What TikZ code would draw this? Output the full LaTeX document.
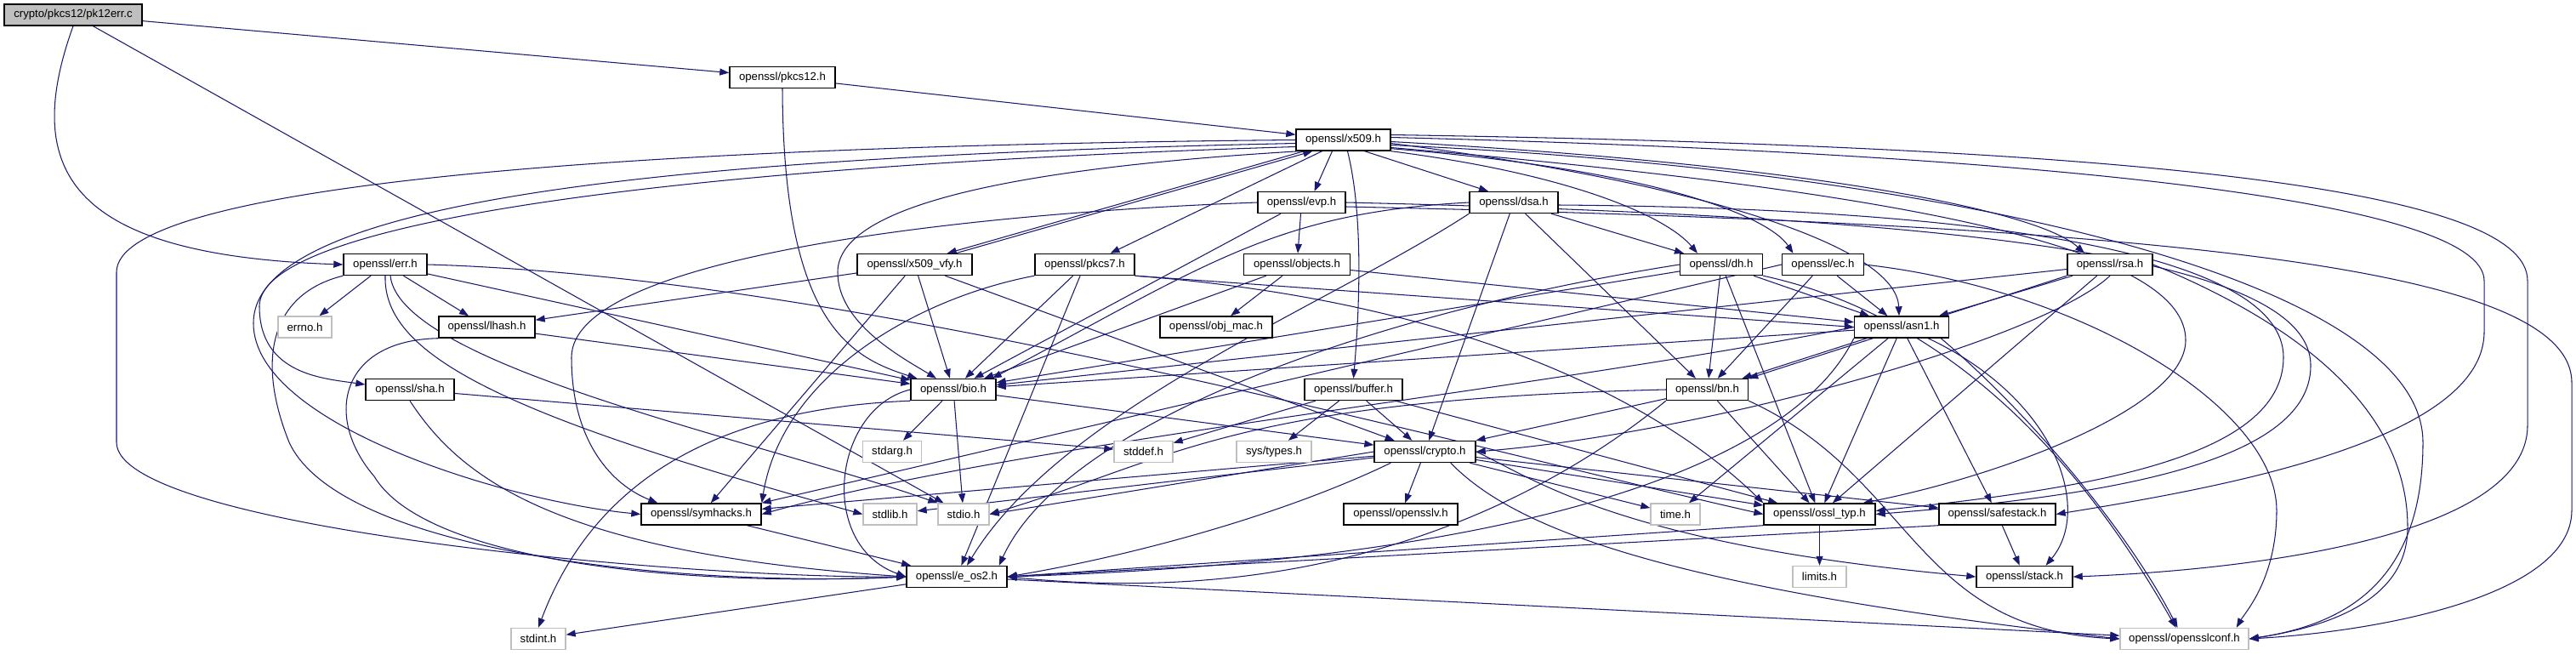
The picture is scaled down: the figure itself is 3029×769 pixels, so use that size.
\documentclass[tikz,border=0pt]{standalone}
\usepackage{fontspec}
\setmainfont{Liberation Sans}
\usetikzlibrary{arrows.meta,calc}
\definecolor{eblue}{HTML}{191970}
\definecolor{gbord}{HTML}{BFBFBF}
\pgfdeclarelayer{bg}
\pgfdeclarelayer{edges}
\pgfsetlayers{bg,edges,main}
\begin{document}
\begin{tikzpicture}[x=1pt,y=-1pt,
  box/.style={draw=black, line width=1.4pt, fill=white, minimum height=25pt, inner sep=0pt, font=\fontsize{13.2}{15}\selectfont},
  gbox/.style={box, draw=gbord},
  rootbox/.style={box, fill=gbord},
  e/.style={draw=eblue, line width=1.05pt, -{Triangle[length=11pt,width=8pt]}}]
\begin{pgfonlayer}{bg}
\fill[white] (0,0) rectangle (3029,769);
\end{pgfonlayer}
\useasboundingbox (0,0) rectangle (3029,769);
% nodes
\node[rootbox, minimum width=162pt] (pk12err) at (86,17.5) {crypto/pkcs12/pk12err.c};
\node[box, minimum width=124pt] (pkcs12) at (920,91) {openssl/pkcs12.h};
\node[box, minimum width=111pt] (x509) at (1579.5,164.5) {openssl/x509.h};
\node[box, minimum width=103pt] (evp) at (1530.5,238) {openssl/evp.h};
\node[box, minimum width=104pt] (dsa) at (1780,238) {openssl/dsa.h};
\node[box, minimum width=98pt] (err) at (453,311) {openssl/err.h};
\node[box, minimum width=135pt] (vfy) at (1075.5,311) {openssl/x509\_vfy.h};
\node[box, minimum width=117pt] (pkcs7) at (1275.5,311) {openssl/pkcs7.h};
\node[box, minimum width=125pt] (objects) at (1525,311) {openssl/objects.h};
\node[box, minimum width=97pt] (dh) at (2024,311) {openssl/dh.h};
\node[box, minimum width=96pt] (ec) at (2143.5,311) {openssl/ec.h};
\node[box, minimum width=100pt] (rsa) at (2481,311) {openssl/rsa.h};
\node[gbox, minimum width=63pt] (errno) at (358.5,384.5) {errno.h};
\node[box, minimum width=113pt] (lhash) at (572.5,384.5) {openssl/lhash.h};
\node[box, minimum width=132pt] (objmac) at (1430,384.5) {openssl/obj\_mac.h};
\node[box, minimum width=111pt] (asn1) at (2236,384.5) {openssl/asn1.h};
\node[box, minimum width=104pt] (sha) at (482,458) {openssl/sha.h};
\node[box, minimum width=100pt] (bio) at (1121,458) {openssl/bio.h};
\node[box, minimum width=115pt] (buffer) at (1591.5,458) {openssl/buffer.h};
\node[box, minimum width=96pt] (bn) at (2007.5,458) {openssl/bn.h};
\node[gbox, minimum width=69pt] (stdarg) at (1049,531) {stdarg.h};
\node[gbox, minimum width=69pt] (stddef) at (1344.5,531) {stddef.h};
\node[gbox, minimum width=88pt] (systypes) at (1498,531) {sys/types.h};
\node[box, minimum width=119pt] (crypto) at (1675.5,531) {openssl/crypto.h};
\node[box, minimum width=141pt] (symhacks) at (824.5,604.5) {openssl/symhacks.h};
\node[gbox, minimum width=63pt] (stdlib) at (1046.5,604.5) {stdlib.h};
\node[gbox, minimum width=60pt] (stdio) at (1133,604.5) {stdio.h};
\node[box, minimum width=134pt] (opensslv) at (1647,604.5) {openssl/opensslv.h};
\node[gbox, minimum width=58pt] (time) at (1970,604.5) {time.h};
\node[box, minimum width=131pt] (ossltyp) at (2139.5,604.5) {openssl/ossl\_typ.h};
\node[box, minimum width=137pt] (safestack) at (2348.5,604.5) {openssl/safestack.h};
\node[box, minimum width=118pt] (eos2) at (1125,678) {openssl/e\_os2.h};
\node[gbox, minimum width=63pt] (limits) at (2139.5,678) {limits.h};
\node[box, minimum width=113pt] (stack) at (2380.5,678) {openssl/stack.h};
\node[gbox, minimum width=64pt] (stdint) at (633,751) {stdint.h};
\node[gbox, minimum width=151pt] (conf) at (2568.5,751) {openssl/opensslconf.h};

\begin{pgfonlayer}{edges}
% pk12err.c
\draw[e] (pk12err) -- (pkcs12);
\draw[e] (pk12err) -- (stdio);
\draw[e] (pk12err.south) .. controls (25,200) and (80,300) .. (err.west);
% pkcs12.h
\draw[e] (pkcs12) -- (x509);
\draw[e] (pkcs12.south) .. controls (921,380) and (1000,420) .. ($(bio.north west)+(8,0)$);
% x509.h
\draw[e] (x509.west) .. controls (700,172) and (137,220) .. (137,320) -- (137,520) .. controls (137,620) and (800,680) .. (eos2.west);
\draw[e] ($(x509.west)+(0,4)$) .. controls (750,185) and (298,240) .. (298,380) .. controls (298,500) and (600,590) .. (symhacks.west);
\draw[e] ($(x509.west)+(0,8)$) .. controls (800,195) and (305,260) .. (305,360) .. controls (305,440) and (380,445) .. ($(sha.west)+(0,-6)$);
\draw[e] ($(x509.south west)+(5,0)$) .. controls (1150,200) and (985,250) .. (985,320) .. controls (985,380) and (1060,420) .. ($(bio.north)+(-20,0)$);
\draw[e] ($(x509.south west)+(10,0)$) -- ($(vfy.north east)+(-30,0)$);
\draw[e] ($(vfy.north east)+(-20,0)$) -- ($(x509.south west)+(20,0)$);
\draw[e] ($(x509.south)+(-25,0)$) -- ($(pkcs7.north)+(30,0)$);
\draw[e] ($(x509.south)+(-13,0)$) -- ($(evp.north)+(15,0)$);
\draw[e] ($(x509.south)+(25,0)$) -- ($(dsa.north)+(-30,0)$);
\draw[e] ($(x509.south)+(5,0)$) .. controls (1605,260) and (1597,380) .. (buffer.north);
\draw[e] (x509.south east) .. controls (1850,205) and (1960,255) .. ($(dh.north)+(-28,0)$);
\draw[e] ($(x509.south east)+(0,-3)$) .. controls (1950,200) and (2080,255) .. ($(ec.north)+(-35,0)$);
\draw[e] ($(x509.east)+(0,4)$) .. controls (2000,215) and (2230,290) .. ($(asn1.north)+(-3,0)$);
\draw[e] ($(x509.east)+(0,2)$) .. controls (2150,195) and (2400,250) .. ($(rsa.north)+(-30,0)$);
\draw[e] ($(x509.east)+(0,-6)$) .. controls (2500,172) and (2972,220) .. (2972,330) -- (2972,500) .. controls (2972,640) and (2600,672) .. (stack.east);
\draw[e] ($(x509.east)+(0,-3)$) .. controls (2450,182) and (2921,240) .. (2921,330) -- (2921,390) .. controls (2921,520) and (2600,575) .. (safestack.east);
\draw[e] ($(x509.east)+(0,6)$) .. controls (2300,200) and (2849,330) .. (2849,520) .. controls (2849,690) and (2750,735) .. (conf.east);
\draw[e] ($(x509.east)+(0,9)$) .. controls (2300,230) and (2570,300) .. (2570,400) .. controls (2570,480) and (2350,560) .. ($(ossltyp.north east)+(-15,0)$);
% x509_vfy.h
\draw[e] (vfy) -- (lhash);
\draw[e] (vfy) -- (bio);
\draw[e] (vfy) -- (crypto);
\draw[e] (vfy) -- (symhacks);
% err.h
\draw[e] (err) -- (errno);
\draw[e] (err) -- (lhash);
\draw[e] (err) -- (bio);
\draw[e] (err.south west) .. controls (320,345) and (300,420) .. (340,520) .. controls (400,650) and (800,690) .. (eos2.west);
\draw[e] (err.south) .. controls (450,420) and (600,490) .. (stdlib.west);
\draw[e] ($(err.south)+(6,0)$) .. controls (470,430) and (900,520) .. (stdio.north west);
\draw[e] (err.east) .. controls (1000,325) and (1700,520) .. (ossltyp.west);
% lhash.h
\draw[e] (lhash) -- (bio);
\draw[e] (lhash.south west) .. controls (400,400) and (380,490) .. (440,560) .. controls (500,660) and (800,690) .. (eos2.west);
% sha.h
\draw[e] (sha.south) .. controls (540,560) and (650,650) .. (eos2.west);
\draw[e] (sha) -- (stddef);
% pkcs7.h
\draw[e] (pkcs7.south east) -- (asn1.west);
\draw[e] (pkcs7) -- (bio);
\draw[e] (pkcs7) -- (eos2);
\draw[e] (pkcs7.south west) .. controls (1080,350) and (920,440) .. (symhacks.north east);
\draw[e] (pkcs7.south east) .. controls (1800,360) and (2000,520) .. (ossltyp.north west);
% evp.h
\draw[e] (evp) -- (objects);
\draw[e] (evp) -- (bio);
\draw[e] (evp.west) .. controls (1150,250) and (672,300) .. (672,420) .. controls (672,520) and (720,570) .. ($(symhacks.north west)+(20,0)$);
\draw[e] (evp.east) .. controls (2300,255) and (2717,300) .. (2717,430) .. controls (2717,550) and (2450,585) .. (ossltyp.east);
\draw[e] ($(evp.east)+(0,5)$) .. controls (2600,265) and (3024,320) .. (3024,450) -- (3024,600) .. controls (3024,700) and (2800,742) .. (conf.east);
% objects.h
\draw[e] (objects) -- (objmac);
\draw[e] (objects) -- (bio);
\draw[e] (objects) -- (asn1);
% dsa.h
\draw[e] (dsa.south west) .. controls (1560,360) and (1250,480) .. ($(eos2.north)+(12,0)$);
\draw[e] (dsa.west) .. controls (1500,250) and (1420,310) .. ($(bio.north east)+(-5,0)$);
\draw[e] (dsa) -- (crypto);
\draw[e] ($(dsa.east)+(0,3)$) .. controls (2350,245) and (2685,300) .. (2685,420) .. controls (2685,540) and (2450,575) .. ($(ossltyp.east)+(0,-4)$);
\draw[e] (dsa) -- (bn);
\draw[e] (dsa) -- (dh);
% dh.h
\draw[e] (dh.west) .. controls (1600,370) and (1250,500) .. ($(eos2.north east)+(-10,0)$);
\draw[e] (dh) -- (bio);
\draw[e] (dh) -- (ossltyp);
\draw[e] (dh) -- (bn);
\draw[e] (dh) -- (asn1);
\draw[e] (dh.south east) .. controls (2330,380) and (2480,600) .. ($(conf.north)+(-10,0)$);
% ec.h
\draw[e] (ec) -- (asn1);
\draw[e] (ec.west) -- (symhacks.north east);
\draw[e] (ec) -- (bn);
\draw[e] (ec.east) .. controls (2450,340) and (2677,480) .. (2677,600) .. controls (2677,680) and (2640,720) .. ($(conf.north east)+(-15,0)$);
% rsa.h
\draw[e] (rsa) -- (asn1);
\draw[e] (rsa) -- (bio);
\draw[e] (rsa.south) .. controls (2400,400) and (2000,510) .. (crypto.east);
\draw[e] (rsa) -- (ossltyp);
\draw[e] (rsa.south west) -- (bn.north east);
\draw[e] (rsa.east) .. controls (2700,380) and (2831,480) .. (2831,620) .. controls (2831,700) and (2750,735) .. (conf.east);
% asn1.h
\draw[e] (asn1) -- (time);
\draw[e] (asn1.south west) .. controls (2100,560) and (1750,660) .. (eos2.east);
\draw[e] (asn1) -- (bio);
\draw[e] ($(asn1.south east)+(-25,0)$) .. controls (2420,470) and (2460,600) .. ($(stack.north)+(25,0)$);
\draw[e] (asn1) -- (safestack);
\draw[e] (asn1.west) .. controls (1800,460) and (1200,520) .. (symhacks.east);
\draw[e] (asn1) -- (ossltyp);
\draw[e] (asn1) -- (bn);
\draw[e] ($(asn1.south east)+(-10,0)$) .. controls (2380,480) and (2500,620) .. ($(conf.north)+(-8,0)$);
% bn.h
\draw[e] (bn.south west) .. controls (1850,560) and (1600,720) .. (eos2.east);
\draw[e] (bn.west) .. controls (1450,470) and (1380,540) .. (stdio.east);
\draw[e] (bn) -- (ossltyp);
\draw[e] (bn) -- (crypto);
\draw[e] (bn.south east) .. controls (2250,560) and (2250,740) .. (conf.west);
% buffer.h
\draw[e] (buffer) -- (stddef);
\draw[e] (buffer) -- (systypes);
\draw[e] (buffer) -- (crypto);
\draw[e] (buffer) -- (ossltyp);
% bio.h
\draw[e] (bio) -- (stdarg);
\draw[e] (bio) -- (stdio);
\draw[e] (bio) -- (crypto);
\draw[e] (bio.west) .. controls (980,480) and (960,640) .. (eos2.west);
\draw[e] (bio.south west) .. controls (850,480) and (700,560) .. (stdint.north);
% crypto.h
\draw[e] (crypto) -- (stdlib);
\draw[e] (crypto.west) -- (stdio.east);
\draw[e] ($(crypto.south west)+(20,0)$) .. controls (1520,600) and (1350,650) .. (eos2.east);
\draw[e] (crypto) -- (symhacks);
\draw[e] (crypto) -- (opensslv);
\draw[e] (crypto) -- (time);
\draw[e] (crypto) -- (ossltyp);
\draw[e] (crypto) -- (safestack);
\draw[e] (crypto.east) .. controls (1800,560) and (1900,640) .. (stack.west);
\draw[e] ($(crypto.south east)+(-30,0)$) .. controls (1780,620) and (1950,690) .. (conf.west);
% others
\draw[e] (safestack) -- (stack);
\draw[e] (safestack.south west) -- (eos2.east);
\draw[e] (ossltyp.south west) -- (eos2.east);
\draw[e] (ossltyp) -- (limits);
\draw[e] (symhacks) -- (eos2);
\draw[e] (eos2) -- (conf);
\draw[e] (eos2) -- (stdint);
\end{pgfonlayer}
\end{tikzpicture}
\end{document}
